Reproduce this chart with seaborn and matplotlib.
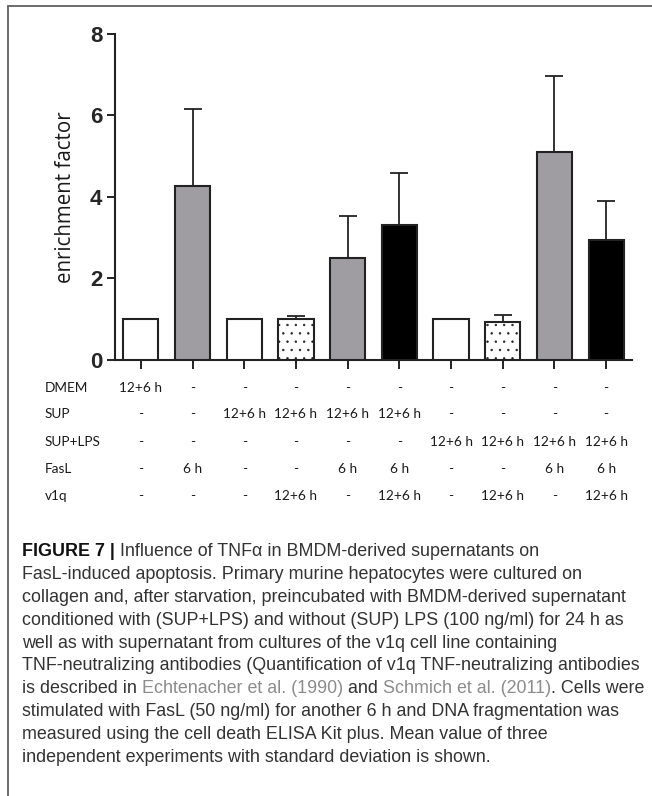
import matplotlib
matplotlib.use("Agg")
import matplotlib.pyplot as plt
from matplotlib.lines import Line2D
import matplotlib.transforms as mtransforms
import seaborn as sns
import pandas as pd
import numpy as np

# ---------------- data ----------------
conditions = ["C1", "C2", "C3", "C4", "C5", "C6", "C7", "C8", "C9", "C10"]
means = [1.0, 4.27, 1.0, 1.01, 2.51, 3.32, 1.0, 0.93, 5.11, 2.94]
sds = [0.0, 1.90, 0.0, 0.06, 1.02, 1.27, 0.0, 0.17, 1.86, 0.97]
bar_colors = ["#ffffff", "#a09da2", "#ffffff", "#ffffff", "#a09da2",
              "#000000", "#ffffff", "#ffffff", "#a09da2", "#000000"]
dotted = [False, False, False, True, False, False, False, True, False, False]

y_ticks = [0, 2, 4, 6, 8]
y_label = "enrichment factor"

row_labels = ["DMEM", "SUP", "SUP+LPS", "FasL", "v1q"]
row_dmem = ["12+6 h", "-", "-", "-", "-", "-", "-", "-", "-", "-"]
row_sup = ["-", "-", "12+6 h", "12+6 h", "12+6 h", "12+6 h", "-", "-", "-", "-"]
row_suplps = ["-", "-", "-", "-", "-", "-", "12+6 h", "12+6 h", "12+6 h", "12+6 h"]
row_fasl = ["-", "6 h", "-", "-", "6 h", "6 h", "-", "-", "6 h", "6 h"]
row_v1q = ["-", "-", "-", "12+6 h", "-", "12+6 h", "-", "12+6 h", "-", "12+6 h"]
table_rows = [row_dmem, row_sup, row_suplps, row_fasl, row_v1q]

caption_lines = [
    [("FIGURE 7 |", "bold"), (" Influence of TNF\u03b1 in BMDM-derived supernatants on", "normal")],
    [("FasL-induced apoptosis. Primary murine hepatocytes were cultured on", "normal")],
    [("collagen and, after starvation, preincubated with BMDM-derived supernatant", "normal")],
    [("conditioned with (SUP+LPS) and without (SUP) LPS (100 ng/ml) for 24 h as", "normal")],
    [("well as with supernatant from cultures of the v1q cell line containing", "normal")],
    [("TNF-neutralizing antibodies (Quantification of v1q TNF-neutralizing antibodies", "normal")],
    [("is described in ", "normal"), ("Echtenacher et al. (1990)", "link"), (" and ", "normal"),
     ("Schmich et al. (2011)", "link"), (". Cells were", "normal")],
    [("stimulated with FasL (50 ng/ml) for another 6 h and DNA fragmentation was", "normal")],
    [("measured using the cell death ELISA Kit plus. Mean value of three", "normal")],
    [("independent experiments with standard deviation is shown.", "normal")],
]

# ---------------- figure ----------------
sns.set_style("ticks")
plt.rcParams["hatch.linewidth"] = 0.5
W, H = 652, 796
fig = plt.figure(figsize=(W / 100, H / 100), dpi=100)
ax = fig.add_axes([115 / W, 1 - 360 / H, (632 - 115) / W, (360 - 34) / H])

df = pd.DataFrame({"cond": conditions, "mean": means})
sns.barplot(data=df, x="cond", y="mean", hue="cond", palette=bar_colors,
            legend=False, errorbar=None, width=0.68, saturation=1,
            edgecolor="#222222", linewidth=1.5, ax=ax, zorder=3)

for p, d in zip(ax.patches, dotted):
    if d:
        p.set_hatch("..")
        if hasattr(p, "set_hatchcolor"):
            p.set_hatchcolor("#a8a8a8")

ax.errorbar(x=np.arange(len(conditions)), y=means,
            yerr=[np.zeros(len(sds)), sds], fmt="none", ecolor="#222222",
            elinewidth=1.3, capsize=6.8, capthick=1.3, zorder=2)

ax.set_xlim(-0.5, 9.5)
ax.set_ylim(0, 8)
ax.set_yticks(y_ticks)
ax.set_yticklabels([str(t) for t in y_ticks], fontfamily="Liberation Sans",
                   fontweight="bold", fontsize=16)
ax.set_xticks(np.arange(len(conditions)))
ax.set_xticklabels([])
ax.set_xlabel("")
ax.set_ylabel(y_label, fontfamily="Open Sans", fontsize=14.8, labelpad=10,
              color="#1a1a1a")
ax.tick_params(axis="y", direction="out", length=6, width=1.4, pad=3, color="#222222")
ax.tick_params(axis="x", direction="out", length=6.5, width=1.4, color="#222222")
for s in ["top", "right"]:
    ax.spines[s].set_visible(False)
for s in ["left", "bottom"]:
    ax.spines[s].set_linewidth(1.5)
    ax.spines[s].set_color("#222222")

# ---------------- condition table ----------------
row_y = [388, 414, 442, 469, 496]
trans = mtransforms.blended_transform_factory(ax.transData, fig.transFigure)
for lab, vals, yy in zip(row_labels, table_rows, row_y):
    fig.text(45 / W, 1 - yy / H, lab, fontfamily="Lato", fontsize=9.8,
             color="#1a1a1a", va="center", ha="left")
    for i, v in enumerate(vals):
        ax.text(i, 1 - yy / H, v, transform=trans, fontfamily="Lato",
                fontsize=9.8, color="#1a1a1a", va="center", ha="center",
                clip_on=False)

# ---------------- frame ----------------
fig.add_artist(Line2D([8 / W, 8 / W], [0, 1 - 6 / H], transform=fig.transFigure,
                      color="#6a6a6a", lw=1.4))
fig.add_artist(Line2D([8 / W, 1], [1 - 6 / H, 1 - 6 / H], transform=fig.transFigure,
                      color="#6a6a6a", lw=1.4))

# ---------------- caption ----------------
fig.canvas.draw()
renderer = fig.canvas.get_renderer()
cap_font = "Liberation Sans"
cap_size = 12.85


def seg_width(text, weight):
    t1 = fig.text(0, 0, "x" + text + "x", fontfamily=cap_font, fontsize=cap_size,
                  fontweight=weight)
    t2 = fig.text(0, 0, "xx", fontfamily=cap_font, fontsize=cap_size,
                  fontweight=weight)
    w = t1.get_window_extent(renderer).width - t2.get_window_extent(renderer).width
    t1.remove()
    t2.remove()
    return w


x0 = 22.0
for k, line in enumerate(caption_lines):
    yy = 556.0 + 22.9 * k
    x = x0
    for text, style in line:
        weight = "bold" if style == "bold" else "normal"
        color = "#8c8c8c" if style == "link" else ("#111111" if style == "bold" else "#333333")
        fig.text(x / W, 1 - yy / H, text, fontfamily=cap_font, fontsize=cap_size,
                 fontweight=weight, color=color, va="baseline", ha="left")
        x += seg_width(text, weight)

fig.savefig("out.png", dpi=100)
